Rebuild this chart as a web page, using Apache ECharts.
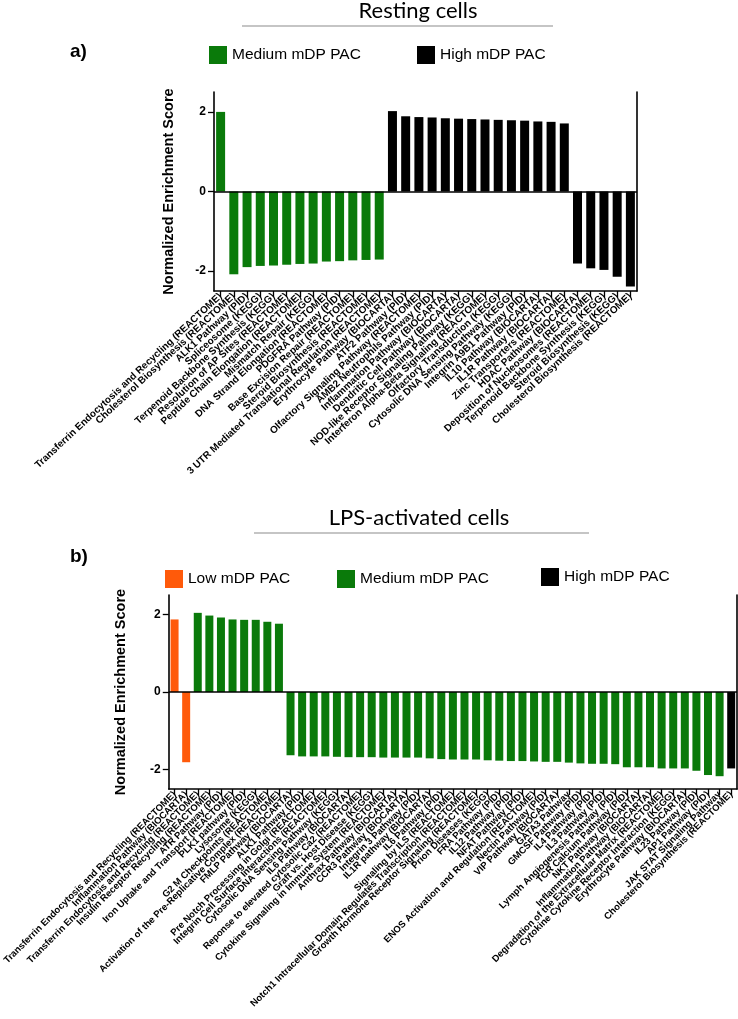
<!DOCTYPE html>
<html>
<head>
<meta charset="utf-8">
<script src="https://cdn.jsdelivr.net/npm/echarts@6/dist/echarts.min.js"></script>
<style>
  html, body { margin: 0; padding: 0; background: #fff; }
  #chart { width: 738px; height: 1019px; }
</style>
</head>
<body>
<div id="chart"></div>
<script>
// ---------- Panel a: Resting cells ----------
const categoriesA = [
  'Transferrin Endocytosis and Recycling (REACTOME)',
  'Cholesterol Biosynthesis (REACTOME)',
  'ALK1 Pathway (PID)',
  'Spliceosome (KEGG)',
  'Terpenoid Backbone Synthesis (KEGG)',
  'Resolution of AP Sites (REACTOME)',
  'Peptide Chain Elongation (REACTOME)',
  'Mismatch Repair (KEGG)',
  'DNA Strand Elongation (REACTOME)',
  'PDGFRA Pathway (PID)',
  'Base Excision Repair (REACTOME)',
  'Steroid Biosynthesis (REACTOME)',
  '3 UTR Mediated Translational Regulation (REACTOME)',
  'Erythrocyte Pathway (BIOCARTA)',
  'ATF2 Pathway (PID)',
  'Olfactory Signaling Pathway (REACTOME)',
  'AMB2 Neutrophils Pathway (PID)',
  'Inflammation Pathway (BIOCARTA)',
  'Dendritic Cell Pathway (BIOCARTA)',
  'NOD-like Receptor Signaling Pathway (KEGG)',
  'Interferon Alpha-Beta Signaling (REACTOME)',
  'Olfactory Transduction (KEGG)',
  'Cytosolic DNA Sensing Pathway (KEGG)',
  'Integrin A9B1 Pathway (PID)',
  'IL10 Pathway (BIOCARTA)',
  'IL1R Pathway (BIOCARTA)',
  'Zinc Transporters (REACTOME)',
  'HDAC Pathway (BIOCARTA)',
  'Deposition of Nucleosomes (REACTOME)',
  'Terpenoid Backbone Synthesis (KEGG)',
  'Steroid Biosynthesis (KEGG)',
  'Cholesterol Biosynthesis (REACTOME)'
];
const valuesA = [
  2.00, -2.08, -1.90, -1.87, -1.86, -1.84, -1.82, -1.81, -1.76, -1.75, -1.73, -1.72, -1.71,
  2.02, 1.89, 1.87, 1.86, 1.84, 1.83, 1.82, 1.81, 1.80, 1.79, 1.78, 1.76, 1.75, 1.71,
  -1.81, -1.93, -1.97, -2.14, -2.39
];
const groupsA = [
  'Medium','Medium','Medium','Medium','Medium','Medium','Medium','Medium','Medium','Medium','Medium','Medium','Medium',
  'High','High','High','High','High','High','High','High','High','High','High','High','High','High',
  'High','High','High','High','High'
];

// ---------- Panel b: LPS-activated cells ----------
const categoriesB = [
  'Transferrin Endocytosis and Recycling (REACTOME)',
  'Inflammation Pathway (BIOCARTA)',
  'Transferrin Endocytosis and Recycling (REACTOME)',
  'Insulin Receptor Recycling (REACTOME)',
  'ATR Pathway (PID)',
  'Iron Uptake and Transport (REACTOME)',
  'PLK1 pathway (PID)',
  'Lysosome (KEGG)',
  'G2 M Checkpoints (REACTOME)',
  'Activation of the Pre-Replicative Complex (REACTOME)',
  'FMLP Pathway (BIOCARTA)',
  'ALK1 Pathway (PID)',
  'Pre Notch Processing in Golgi (REACTOME)',
  'Integrin Cell Surface Interactions (REACTOME)',
  'Cytosolic DNA Sensing Pathway (KEGG)',
  'IL6 Pathway (BIOCARTA)',
  'Reponse to elevated cytosolic Ca2 (REACTOME)',
  'Graft vs. Host Disease (KEGG)',
  'Cytokine Signaling in Immune System (REACTOME)',
  'Anthrax Pathway (BIOCARTA)',
  'CCR3 Pathway (BIOCARTA)',
  'Integrin 3 Pathway (PID)',
  'IL1R pathway (BIOCARTA)',
  'IL6 Pathway (PID)',
  'Signaling by ILS (REACTOME)',
  'Notch1 Intracellular Domain Regulates Transcription (REACTOME)',
  'Growth Hormone Receptor Signaling (REACTOME)',
  'Prion Diseases (KEGG)',
  'FRA Pathway (PID)',
  'IL12 Pathway (PID)',
  'NFAT Pathway (PID)',
  'ENOS Activation and Regulation (REACTOME)',
  'Nectin Pathway (PID)',
  'VIP Pathway (BIOCARTA)',
  'GATA3 Pathway',
  'GMCSF Pathway (PID)',
  'IL4 Pathway (PID)',
  'IL3 Pathway (PID)',
  'Lymph Angiogenesis Pathway (PID)',
  'TCR Calcium Pathway (PID)',
  'NKT Pathway (BIOCARTA)',
  'Inflammation Pathway (BIOCARTA)',
  'Degradation of the Extracellular Matrix (REACTOME)',
  'Cytokine Cytokine Receptor Interaction (KEGG)',
  'Erythrocyte Pathway (BIOCARTA)',
  'IL23 Pathway (PID)',
  'AP1 Pathway (PID)',
  'JAK STAT Signaling Pathway',
  'Cholesterol Biosynthesis (REACTOME)'
];
const valuesB = [
  1.87, -1.81,
  2.04, 1.97, 1.92, 1.87, 1.86, 1.86, 1.81, 1.76,
  -1.63, -1.66, -1.66, -1.66, -1.67, -1.68, -1.68, -1.68, -1.69, -1.69, -1.69, -1.69, -1.71, -1.73,
  -1.74, -1.74, -1.74, -1.76, -1.77, -1.78, -1.78, -1.79, -1.80, -1.80, -1.82, -1.84, -1.85, -1.85,
  -1.86, -1.94, -1.94, -1.94, -1.97, -1.97, -1.97, -2.03, -2.14, -2.17,
  -1.97
];
const groupsB = [
  'Low','Low',
  'Medium','Medium','Medium','Medium','Medium','Medium','Medium','Medium',
  'Medium','Medium','Medium','Medium','Medium','Medium','Medium','Medium','Medium','Medium','Medium','Medium','Medium','Medium',
  'Medium','Medium','Medium','Medium','Medium','Medium','Medium','Medium','Medium','Medium','Medium','Medium','Medium','Medium',
  'Medium','Medium','Medium','Medium','Medium','Medium','Medium','Medium','Medium','Medium',
  'High'
];

const yTicks = [-2, 0, 2];
const groupNames = { Low: 'Low mDP PAC', Medium: 'Medium mDP PAC', High: 'High mDP PAC' };
const groupColors = { Low: '#FF5A0A', Medium: '#0A7A0A', High: '#000000' };

const FONT = "'Liberation Sans', Arial, sans-serif";

function seriesFor(values, groups, key, xIdx, yIdx, barWidth, withZero) {
  const s = {
    type: 'bar',
    name: groupNames[key],
    xAxisIndex: xIdx,
    yAxisIndex: yIdx,
    barWidth: barWidth,
    barGap: '-100%',
    itemStyle: { color: groupColors[key] },
    data: values.map((v, i) => groups[i] === key ? v : null),
    silent: true
  };
  if (withZero) {
    s.markLine = {
      silent: true, symbol: 'none', label: { show: false },
      lineStyle: { color: '#000', width: 1.6, type: 'solid' },
      data: [{ yAxis: 0 }]
    };
  }
  return s;
}

function xAxisFor(grid, cats, fontSize, rot) {
  return {
    type: 'category', gridIndex: grid, data: cats,
    axisLine: { onZero: false, lineStyle: { color: '#000', width: 1.6 } },
    axisTick: { show: true, interval: 0, alignWithLabel: true, length: 6, lineStyle: { color: '#000', width: 1.3 } },
    axisLabel: { interval: 0, rotate: rot, fontSize: fontSize, fontWeight: 'bold', color: '#000', fontFamily: FONT, margin: 4 },
    splitLine: { show: false }
  };
}

function yAxisLeft(grid, nameGap) {
  return {
    type: 'value', gridIndex: grid, min: -2.5, max: 2.5, position: 'left',
    name: 'Normalized Enrichment Score', nameLocation: 'middle', nameGap: nameGap,
    nameTextStyle: { fontSize: 14.5, fontWeight: 'bold', color: '#000', fontFamily: FONT },
    axisLine: { show: true, lineStyle: { color: '#000', width: 1.6 } },
    axisTick: { show: true, length: 6, customValues: yTicks, lineStyle: { color: '#000', width: 1.3 } },
    axisLabel: { customValues: yTicks, fontSize: 12, fontWeight: 'bold', color: '#000', fontFamily: FONT, margin: 8 },
    splitLine: { show: false }
  };
}
function yAxisRight(grid) {
  return {
    type: 'value', gridIndex: grid, min: -2.5, max: 2.5, position: 'right',
    axisLine: { show: true, lineStyle: { color: '#000', width: 1.6 } },
    axisTick: { show: false }, axisLabel: { show: false }, splitLine: { show: false }
  };
}

function legendAt(name, left, top) {
  return {
    data: [name], left: left, top: top, padding: 0, icon: 'rect',
    itemWidth: 18, itemHeight: 18, selectedMode: false,
    textStyle: { fontSize: 15.5, color: '#000', fontFamily: FONT }
  };
}

const chart = echarts.init(document.getElementById('chart'), null, { renderer: 'canvas' });
chart.setOption({
  animation: false,
  backgroundColor: '#fff',
  grid: [
    { left: 214, top: 92, width: 423, height: 199 },
    { left: 163, top: 595, width: 574, height: 194 }
  ],
  legend: [
    legendAt(groupNames.Medium, 209, 46),
    legendAt(groupNames.High, 417, 46),
    legendAt(groupNames.Low, 165, 570),
    legendAt(groupNames.Medium, 337, 570),
    legendAt(groupNames.High, 541, 568)
  ],
  xAxis: [ xAxisFor(0, categoriesA, 10, 43), xAxisFor(1, categoriesB, 9.5, 45) ],
  yAxis: [ yAxisLeft(0, 38), yAxisRight(0), yAxisLeft(1, 40), yAxisRight(1) ],
  series: [
    seriesFor(valuesA, groupsA, 'Medium', 0, 0, 9, true),
    seriesFor(valuesA, groupsA, 'High', 0, 0, 9, false),
    seriesFor(valuesB, groupsB, 'Low', 1, 2, 8, true),
    seriesFor(valuesB, groupsB, 'Medium', 1, 2, 8, false),
    seriesFor(valuesB, groupsB, 'High', 1, 2, 8, false)
  ],
  graphic: [
    { type: 'text', x: 418, y: 11, style: { text: 'Resting cells', font: "22px Lato, 'Open Sans', sans-serif", fill: '#000', textAlign: 'center', textVerticalAlign: 'middle' } },
    { type: 'line', shape: { x1: 242, y1: 26, x2: 553, y2: 26 }, style: { stroke: '#8c8c8c', lineWidth: 1.2 } },
    { type: 'text', x: 70, y: 52, style: { text: 'a)', font: "bold 19px 'Liberation Sans', Arial, sans-serif", fill: '#000', textVerticalAlign: 'middle' } },
    { type: 'text', x: 419, y: 518, style: { text: 'LPS-activated cells', font: "22px Lato, 'Open Sans', sans-serif", fill: '#000', textAlign: 'center', textVerticalAlign: 'middle' } },
    { type: 'line', shape: { x1: 254, y1: 533, x2: 589, y2: 533 }, style: { stroke: '#8c8c8c', lineWidth: 1.2 } },
    { type: 'text', x: 70, y: 557, style: { text: 'b)', font: "bold 19px 'Liberation Sans', Arial, sans-serif", fill: '#000', textVerticalAlign: 'middle' } }
  ]
});
</script>
</body>
</html>
